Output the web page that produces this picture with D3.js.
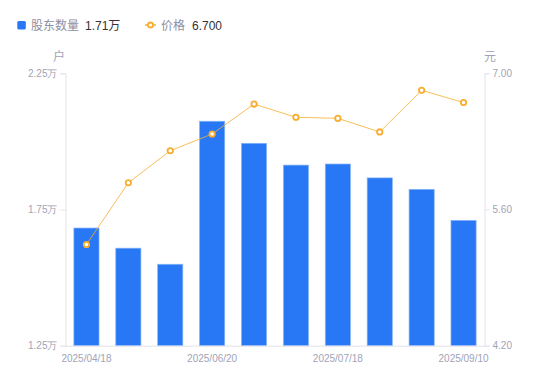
<!DOCTYPE html>
<html>
<head>
<meta charset="utf-8">
<script src="https://cdn.jsdelivr.net/npm/d3@7"></script>
<style>
  body { margin: 0; background: #fff; }
  svg { font-family: "Liberation Sans", Arial, "Noto Sans CJK SC", sans-serif; }
</style>
</head>
<body>
<div id="canvas"></div>
<script>
const dates = ["2025/04/18", "2025/04/30", "2025/05/20", "2025/06/20", "2025/06/30",
               "2025/07/10", "2025/07/18", "2025/08/08", "2025/08/29", "2025/09/10"];
const holders = [1.682, 1.608, 1.549, 2.074, 1.993, 1.913, 1.917, 1.866, 1.824, 1.71]; // 万户
const prices = [5.24, 5.875, 6.204, 6.376, 6.684, 6.548, 6.537, 6.397, 6.825, 6.70];
const shownDates = ["2025/04/18", "2025/06/20", "2025/07/18", "2025/09/10"];
const leftTicks = [1.25, 1.75, 2.25];
const rightTicks = [4.2, 5.6, 7.0];

const width = 550;
const height = 381;
const margin = { top: 73.3, left: 65.5, bottom: 35.3, right: 65.5 };
const axisColor = "#e3e3ea";
const labelColor = "#a0a3b8";
const barColor = "#2878f5";
const lineColor = "#f7ae2f";

const svg = d3.select("#canvas").append("svg")
    .attr("width", width)
    .attr("height", height);

const x = d3.scaleBand()
    .domain(dates)
    .range([margin.left, width - margin.right])
    .paddingInner(0.4)
    .paddingOuter(0.2);

const yL = d3.scaleLinear()
    .domain([1.25, 2.25])
    .range([height - margin.bottom, margin.top]);

const yR = d3.scaleLinear()
    .domain([4.2, 7.0])
    .range([height - margin.bottom, margin.top]);

// bars
svg.append("g").selectAll("rect")
    .data(holders)
    .enter().append("rect")
    .attr("x", (d, i) => x(dates[i]))
    .attr("y", d => yL(d))
    .attr("width", x.bandwidth())
    .attr("height", d => yL(1.25) - yL(d))
    .style("fill", barColor)
    .style("stroke", "#86b3fa")
    .style("stroke-width", 0.7);

// axes
function styleAxis(g) {
    g.selectAll("path, line").attr("stroke", axisColor);
    g.selectAll("text")
        .attr("fill", labelColor)
        .style("font-size", "10px");
}

svg.append("g")
    .attr("transform", `translate(0, ${height - margin.bottom})`)
    .call(d3.axisBottom(x).tickValues(shownDates).tickSize(0).tickPadding(9))
    .call(styleAxis);

svg.append("g")
    .attr("transform", `translate(${margin.left}, 0)`)
    .call(d3.axisLeft(yL).tickValues(leftTicks).tickSize(5).tickPadding(3)
        .tickFormat(d => d.toFixed(2) + "万"))
    .call(styleAxis);

svg.append("g")
    .attr("transform", `translate(${width - margin.right}, 0)`)
    .call(d3.axisRight(yR).tickValues(rightTicks).tickSize(5).tickPadding(3)
        .tickFormat(d => d.toFixed(2)))
    .call(styleAxis);

// unit labels
svg.append("text")
    .attr("x", 59).attr("y", 61)
    .attr("text-anchor", "middle")
    .attr("fill", labelColor)
    .style("font-size", "12px")
    .text("户");

svg.append("text")
    .attr("x", 490).attr("y", 61)
    .attr("text-anchor", "middle")
    .attr("fill", labelColor)
    .style("font-size", "12px")
    .text("元");

// price line
const line = d3.line()
    .x((d, i) => x(dates[i]) + x.bandwidth() / 2)
    .y(d => yR(d));

svg.append("path")
    .datum(prices)
    .attr("d", line)
    .attr("fill", "none")
    .attr("stroke", lineColor)
    .attr("stroke-opacity", 0.8)
    .attr("stroke-width", 1);

svg.append("g").selectAll("circle")
    .data(prices)
    .enter().append("circle")
    .attr("cx", (d, i) => x(dates[i]) + x.bandwidth() / 2)
    .attr("cy", d => yR(d))
    .attr("r", 2.7)
    .attr("fill", "#fff")
    .attr("stroke", lineColor)
    .attr("stroke-width", 1.8);

// legend
const legend = svg.append("g").style("font-size", "12px");

legend.append("rect")
    .attr("x", 17.3).attr("y", 21)
    .attr("width", 8.5).attr("height", 8.5)
    .attr("rx", 1.5)
    .attr("fill", barColor);

legend.append("text")
    .attr("x", 31).attr("y", 29.5)
    .attr("fill", "#8c8fa3")
    .text("股东数量");

legend.append("text")
    .attr("x", 85).attr("y", 29.5)
    .attr("fill", "#333")
    .text(holders[holders.length - 1].toFixed(2) + "万");

legend.append("line")
    .attr("x1", 145).attr("x2", 156)
    .attr("y1", 25).attr("y2", 25)
    .attr("stroke", lineColor)
    .attr("stroke-width", 1.5);

legend.append("circle")
    .attr("cx", 150.5).attr("cy", 25)
    .attr("r", 2.5)
    .attr("fill", "#fff")
    .attr("stroke", lineColor)
    .attr("stroke-width", 1.8);

legend.append("text")
    .attr("x", 161).attr("y", 29.5)
    .attr("fill", "#8c8fa3")
    .text("价格");

legend.append("text")
    .attr("x", 192).attr("y", 29.5)
    .attr("fill", "#333")
    .text(prices[prices.length - 1].toFixed(3));
</script>
</body>
</html>
